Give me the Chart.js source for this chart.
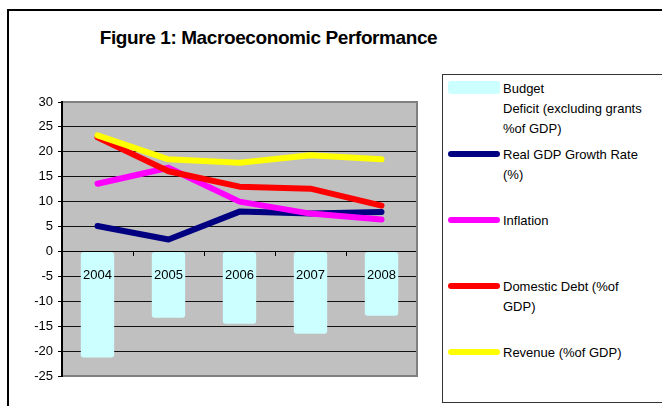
<!DOCTYPE html>
<html>
<head>
<meta charset="utf-8">
<script src="https://cdn.jsdelivr.net/npm/chart.js@4/dist/chart.umd.min.js"></script>
<style>
  html, body { margin:0; padding:0; width:662px; height:406px; overflow:hidden; background:#fff; }
  body { position:relative; font-family: Arial, "Liberation Sans", sans-serif; }
  #frame { position:absolute; left:7px; top:9px; width:800px; height:500px; border:2px solid #000; box-sizing:border-box; }
  #title { position:absolute; left:0; width:537px; top:26px; text-align:center; font-weight:bold; font-size:19px; letter-spacing:-0.4px; line-height:24px; color:#000; }
  #wrap { position:absolute; left:0; top:0; width:440px; height:406px; }
  #legend { position:absolute; left:442px; top:74px; width:400px; height:329px; border:1px solid #333; box-sizing:border-box; }
  .item { position:absolute; left:0; }
  .sw { position:absolute; left:5px; width:52px; }
  .txt { position:absolute; left:60px; white-space:pre; font-size:13px; line-height:20px; color:#000; }
</style>
</head>
<body>
<div id="frame"></div>
<div id="title">Figure 1: Macroeconomic Performance</div>
<div id="wrap"><canvas id="c"></canvas></div>
<div id="legend"></div>
<script>
// ---- data ----
const years = ["2004", "2005", "2006", "2007", "2008"];
const budgetDeficit = [-21.3, -13.3, -14.5, -16.5, -12.9];
const realGdpGrowth = [5.1, 2.4, 8.0, 7.6, 7.9];
const inflation = [13.6, 16.8, 10.0, 7.6, 6.4];
const domesticDebt = [22.9, 16.1, 13.0, 12.6, 9.2];
const revenue = [23.3, 18.5, 17.8, 19.3, 18.5];
const seriesNames = [
  "Budget\nDeficit (excluding grants\n%of GDP)",
  "Real GDP Growth Rate\n(%)",
  "Inflation",
  "Domestic Debt (%of\nGDP)",
  "Revenue (%of GDP)"
];
const seriesColors = ["#ccffff", "#000080", "#ff00ff", "#ff0000", "#ffff00"];
const yMin = -25, yMax = 30, yStep = 5;

const plotBg = {
  id: 'plotBg',
  beforeDraw(chart) {
    const {ctx, chartArea:a} = chart;
    ctx.save();
    ctx.fillStyle = '#c0c0c0';
    ctx.fillRect(a.left, a.top, a.right - a.left, a.bottom - a.top);
    ctx.restore();
  },
  afterDraw(chart) {
    const {ctx, chartArea:a} = chart;
    ctx.save();
    ctx.strokeStyle = '#808080';
    ctx.lineWidth = 2;
    ctx.beginPath();
    ctx.moveTo(a.left, a.top);
    ctx.lineTo(a.right, a.top);
    ctx.lineTo(a.right, a.bottom);
    ctx.lineTo(a.left, a.bottom);
    ctx.stroke();
    ctx.strokeStyle = '#000';
    ctx.beginPath();
    ctx.moveTo(a.left, a.top - 1);
    ctx.lineTo(a.left, a.bottom + 1);
    ctx.stroke();
    ctx.restore();
  }
};

const lineDs = (label, data, color, order) => ({
  type: 'line', label, data, borderColor: color, backgroundColor: color,
  borderWidth: 6, pointRadius: 0, tension: 0, order,
  borderCapStyle: 'round', borderJoinStyle: 'round'
});

new Chart(document.getElementById('c'), {
  data: {
    labels: years,
    datasets: [
      { type: 'bar', label: seriesNames[0], data: budgetDeficit, backgroundColor: seriesColors[0],
        barPercentage: 0.47, categoryPercentage: 1, borderRadius: 3, borderSkipped: false, order: 5 },
      lineDs(seriesNames[1], realGdpGrowth, seriesColors[1], 4),
      lineDs(seriesNames[2], inflation, seriesColors[2], 3),
      lineDs(seriesNames[3], domesticDebt, seriesColors[3], 2),
      lineDs(seriesNames[4], revenue, seriesColors[4], 1)
    ]
  },
  options: {
    responsive: true, maintainAspectRatio: false, animation: false,
    layout: { padding: { left: 0, top: 102, right: 23, bottom: 30 } },
    plugins: { legend: { display: false }, title: { display: false }, tooltip: { enabled: false } },
    scales: {
      x: {
        type: 'category', position: { y: 0 }, offset: true,
        grid: { drawOnChartArea: false, drawTicks: true, tickLength: 4, color: '#000', offset: true, z: 1 },
        border: { color: '#000', width: 1, z: 1 },
        ticks: { color: '#000', font: { family: 'Arial, "Liberation Sans"', size: 13 }, padding: 12, maxRotation: 0, z: 1 }
      },
      y: {
        min: yMin, max: yMax,
        ticks: { stepSize: yStep, color: '#000', font: { family: 'Arial, "Liberation Sans"', size: 13 }, padding: 5 },
        grid: { color: (c) => (c.tick && (c.tick.value === yMax || c.tick.value === yMin)) ? 'rgba(0,0,0,0)' : '#111',
                tickColor: '#000', tickLength: 4, lineWidth: 1 },
        border: { display: false },
        afterFit(scale) { scale.width = 62; }
      }
    }
  },
  plugins: [plotBg]
});

// ---- legend (HTML, built from series arrays) ----
const leg = document.getElementById('legend');
seriesNames.forEach((name, i) => {
  const center = 14 + i * 66; // first text line center, relative to legend box
  const it = document.createElement('div');
  it.className = 'item';
  it.style.top = '0px';
  const sw = document.createElement('div');
  sw.className = 'sw';
  sw.style.background = seriesColors[i];
  if (i === 0) { sw.style.top = (center - 8) + 'px'; sw.style.height = '13px'; sw.style.borderRadius = '3px'; }
  else { sw.style.top = (center - 4) + 'px'; sw.style.height = '6px'; sw.style.borderRadius = '3px'; }
  const tx = document.createElement('div');
  tx.className = 'txt';
  tx.style.top = (center - 10) + 'px';
  tx.textContent = name;
  it.appendChild(sw); it.appendChild(tx);
  leg.appendChild(it);
});
</script>
</body>
</html>
